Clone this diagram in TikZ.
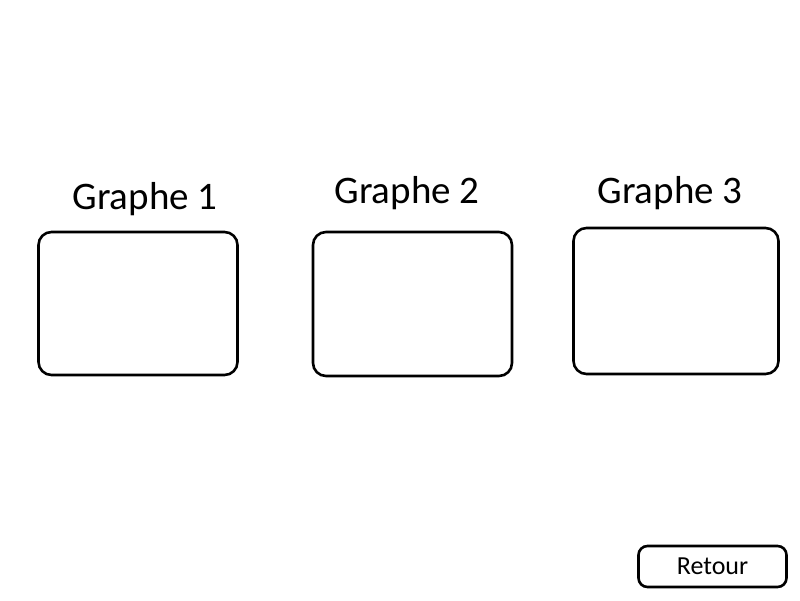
\documentclass[tikz,border=0pt]{standalone}
\usepackage{fontspec}
\setmainfont{Carlito}
\begin{document}
\begin{tikzpicture}[x=1pt,y=-1pt,
    graphbox/.style={draw, line width=2.6pt, rounded corners=13pt, inner sep=0pt},
    graphlabel/.style={anchor=base, inner sep=0pt, font=\fontsize{39}{46}\selectfont},
    backbutton/.style={draw, line width=2.6pt, rounded corners=9pt, inner sep=0pt,
        minimum width=148pt, minimum height=41pt, font=\fontsize{26}{31}\selectfont}]
    \useasboundingbox (0,0) rectangle (800,600);
    \node[graphbox, minimum width=199pt, minimum height=143pt] (box1) at (138,303.5) {};
    \node[graphbox, minimum width=199pt, minimum height=144pt] (box2) at (412.5,304) {};
    \node[graphbox, minimum width=205pt, minimum height=146pt] (box3) at (676,301) {};
    \node[graphlabel] (label1) at (145,209) {Graphe 1};
    \node[graphlabel] (label2) at (407,203) {Graphe 2};
    \node[graphlabel] (label3) at (670,203) {Graphe 3};
    \node[backbutton] (retour) at (712.5,566.5) {Retour};
\end{tikzpicture}
\end{document}
